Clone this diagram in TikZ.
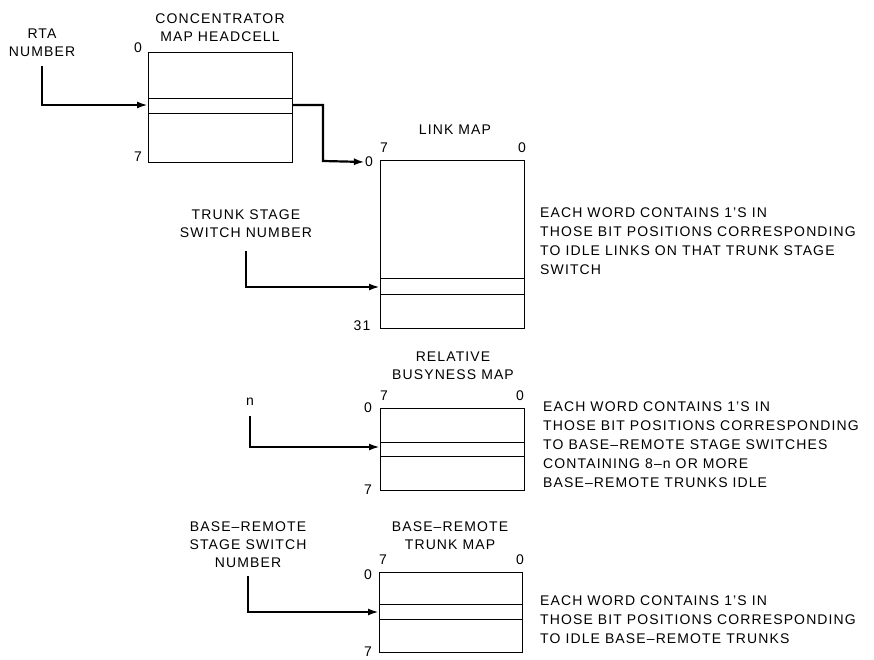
\documentclass[tikz,border=0pt]{standalone}
\usepackage{fontspec}
\setmainfont{Liberation Sans}[LetterSpace=8]
\usetikzlibrary{arrows.meta,positioning}
\tikzset{
  mapbox/.style={draw,line width=1.2pt,anchor=north west,inner sep=0pt},
  row/.style={line width=0.9pt},
  feed/.style={line width=2.2pt,-{Latex[length=11pt,width=7pt]}},
  lbl/.style={font=\fontsize{14}{18}\selectfont,align=center,inner sep=0pt},
  note/.style={font=\fontsize{14}{19}\selectfont,align=left,anchor=north west,inner sep=0pt},
  idx/.style={font=\fontsize{14}{15}\selectfont,inner sep=0pt}
}
\begin{document}
\begin{tikzpicture}[x=1pt,y=-1pt]
  \useasboundingbox (0,0) rectangle (874,659);
  % concentrator map headcell
  \node[mapbox,minimum width=144pt,minimum height=110pt] (hc) at (148,52) {};
  \draw[row] (148,98) -- (292,98) (148,113) -- (292,113);
  \node[lbl] (hctitle) at (220,28) {CONCENTRATOR\\MAP HEADCELL};
  \node[idx] (hc0) at (138,48) {0};
  \node[idx] (hc7) at (138,157) {7};
  \node[lbl] (rta) at (42,43) {RTA\\NUMBER};
  \draw[feed] ([yshift=-9pt]rta.south) |- (148,105);
  % link map
  \node[mapbox,minimum width=144pt,minimum height=168pt] (lm) at (380,160) {};
  \draw[row] (380,278) -- (524,278) (380,294) -- (524,294);
  \node[lbl] (lmtitle) at (455,130) {LINK MAP};
  \node[idx] (lm7) at (384,148) {7};
  \node[idx] (lm0r) at (522,148) {0};
  \node[idx] (lm0) at (369,162) {0};
  \node[idx] (lm31) at (362,326) {31};
  \draw[feed] (292,105) -| (323,161) -- (lm0.west);
  \node[lbl] (tss) at (246,224) {TRUNK STAGE\\SWITCH NUMBER};
  \draw[feed] ([yshift=-13pt]tss.south) |- (380,287);
  \node[note] (lmnote) at (540,208) {EACH WORD CONTAINS 1'S IN\\THOSE BIT POSITIONS CORRESPONDING\\TO IDLE LINKS ON THAT TRUNK STAGE\\SWITCH};
  % relative busyness map
  \node[mapbox,minimum width=144pt,minimum height=82pt] (rb) at (380,408) {};
  \draw[row] (380,442) -- (524,442) (380,456) -- (524,456);
  \node[lbl] (rbtitle) at (453,366) {RELATIVE\\BUSYNESS MAP};
  \node[idx] (rb7) at (384,396) {7};
  \node[idx] (rb0r) at (520,396) {0};
  \node[idx] (rb0) at (368,408) {0};
  \node[idx] (rb7b) at (368,490) {7};
  \node[lbl] (nn) at (250,402) {n};
  \draw[feed] ([yshift=-10pt]nn.south) |- (380,447);
  \node[note] (rbnote) at (543,402) {EACH WORD CONTAINS 1'S IN\\THOSE BIT POSITIONS CORRESPONDING\\TO BASE--REMOTE STAGE SWITCHES\\CONTAINING 8--n OR MORE\\BASE--REMOTE TRUNKS IDLE};
  % base-remote trunk map
  \node[mapbox,minimum width=143pt,minimum height=80pt] (bt) at (379,572) {};
  \draw[row] (379,604) -- (522,604) (379,619) -- (522,619);
  \node[lbl] (bttitle) at (450,536) {BASE--REMOTE\\TRUNK MAP};
  \node[idx] (bt7) at (383,560) {7};
  \node[idx] (bt0r) at (520,560) {0};
  \node[idx] (bt0) at (368,575) {0};
  \node[idx] (bt7b) at (368,652) {7};
  \node[lbl] (brs) at (248,545) {BASE--REMOTE\\STAGE SWITCH\\NUMBER};
  \draw[feed] ([yshift=-8pt]brs.south) |- (379,612);
  \node[note] (btnote) at (540,596) {EACH WORD CONTAINS 1'S IN\\THOSE BIT POSITIONS CORRESPONDING\\TO IDLE BASE--REMOTE TRUNKS};
\end{tikzpicture}
\end{document}
